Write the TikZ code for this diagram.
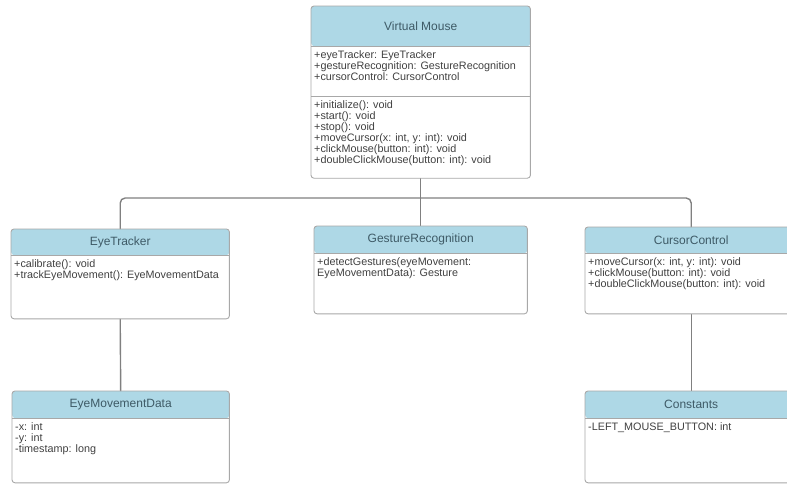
\documentclass[tikz,border=0pt]{standalone}
\usepackage{fontspec}
\setmainfont{Liberation Sans}
\usepackage{tikz}
\usepackage{xcolor}
\usetikzlibrary{positioning}

\definecolor{headblue}{HTML}{AED8E6}
\definecolor{headtext}{HTML}{3E5A66}
\definecolor{boxgray}{HTML}{A8A8A8}
\definecolor{wiregray}{HTML}{808080}
\definecolor{bodytext}{HTML}{404040}

\newcommand{\umlbody}[3]{\parbox[t][#2][t]{#1}{\raggedright #3}}

\tikzset{
  classhead/.style={anchor=north west, fill=headblue, rounded corners=3pt, inner sep=0pt, text=headtext, font=\fontsize{12}{14}\selectfont},
  classbody/.style={inner xsep=3pt, inner ysep=4pt, text=bodytext, font=\fontsize{10.8}{11}\selectfont},
  classframe/.style={draw=boxgray, line width=0.9pt},
  link/.style={draw=wiregray, line width=1.4pt},
}

\begin{document}
\begin{tikzpicture}[x=1pt, y=-1pt, node distance=0pt]
  \useasboundingbox (0,0) rectangle (787,484);

  % Virtual Mouse
  \node[classhead, minimum width=219pt, minimum height=40pt] (vm) at (311,6) {Virtual Mouse};
  \node[classbody, below=of vm] (vmattr) {\umlbody{213pt}{42pt}{+eyeTracker: EyeTracker\\+gestureRecognition: GestureRecognition\\+cursorControl: CursorControl}};
  \node[classbody, below=of vmattr] (vmops) {\umlbody{213pt}{73pt}{+initialize(): void\\+start(): void\\+stop(): void\\+moveCursor(x: int, y: int): void\\+clickMouse(button: int): void\\+doubleClickMouse(button: int): void}};

  % second row
  \node[classhead, minimum width=218pt, minimum height=26pt] (et) at (11,229) {EyeTracker};
  \node[classbody, below=of et] (etbody) {\umlbody{212pt}{55pt}{+calibrate(): void\\+trackEyeMovement(): EyeMovementData}};

  \node[classhead, minimum width=213pt, minimum height=27pt] (gr) at (314,226) {GestureRecognition};
  \node[classbody, below=of gr] (grbody) {\umlbody{207pt}{52pt}{+detectGestures(eyeMovement:\\EyeMovementData): Gesture}};

  \node[classhead, minimum width=212pt, minimum height=26pt] (cc) at (585,227) {CursorControl};
  \node[classbody, below=of cc] (ccbody) {\umlbody{206pt}{52pt}{+moveCursor(x: int, y: int): void\\+clickMouse(button: int): void\\+doubleClickMouse(button: int): void}};

  % third row
  \node[classhead, minimum width=217pt, minimum height=27pt] (emd) at (12,391) {EyeMovementData};
  \node[classbody, below=of emd] (emdbody) {\umlbody{211pt}{56pt}{-x: int\\-y: int\\-timestamp: long}};

  \node[classhead, minimum width=212pt, minimum height=27pt] (con) at (585,391) {Constants};
  \node[classbody, below=of con] (conbody) {\umlbody{206pt}{56pt}{-LEFT\_MOUSE\_BUTTON: int}};

  % links
  \coordinate (bus) at (0,198);
  \draw[link] (vmops.south) -- (gr.north);
  \draw[link, rounded corners=5pt] (vmops.south |- bus) -| (et.north);
  \draw[link, rounded corners=5pt] (vmops.south |- bus) -| (cc.north);
  \draw[link] (etbody.south) -- (emd.north);
  \draw[link] (ccbody.south) -- (con.north);

  % frames
  \draw[classframe, rounded corners=3pt] (vm.north west) rectangle (vmops.south east);
  \draw[classframe] (vm.south west) -- (vm.south east);
  \draw[classframe] (vmattr.south west) -- (vmattr.south east);
  \draw[classframe, rounded corners=3pt] (et.north west) rectangle (etbody.south east);
  \draw[classframe] (et.south west) -- (et.south east);
  \draw[classframe, rounded corners=3pt] (gr.north west) rectangle (grbody.south east);
  \draw[classframe] (gr.south west) -- (gr.south east);
  \draw[classframe, rounded corners=3pt] (cc.north west) rectangle (ccbody.south east);
  \draw[classframe] (cc.south west) -- (cc.south east);
  \draw[classframe, rounded corners=3pt] (emd.north west) rectangle (emdbody.south east);
  \draw[classframe] (emd.south west) -- (emd.south east);
  \draw[classframe, rounded corners=3pt] (con.north west) rectangle (conbody.south east);
  \draw[classframe] (con.south west) -- (con.south east);
\end{tikzpicture}
\end{document}
